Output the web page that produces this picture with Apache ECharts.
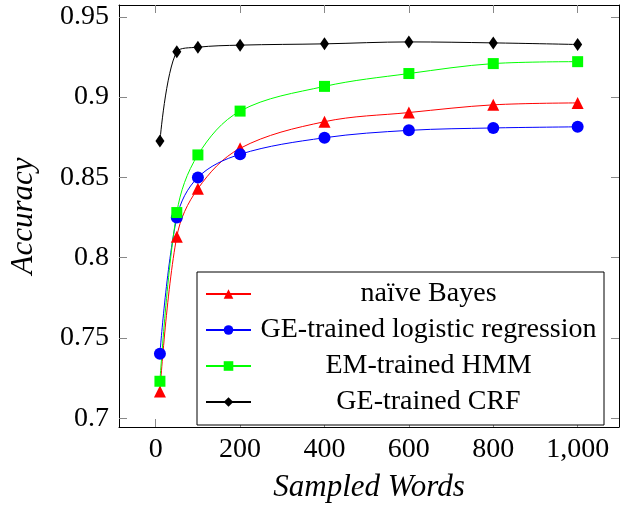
<!DOCTYPE html>
<html>
<head>
<meta charset="utf-8">
<script src="https://cdn.jsdelivr.net/npm/echarts@6/dist/echarts.min.js"></script>
<style>
  html, body { margin: 0; padding: 0; background: #fff; }
  #chart { width: 634px; height: 508px; }
</style>
</head>
<body>
<div id="chart"></div>
<script>
  // sampled word counts
  var sampledWords = [10, 50, 100, 200, 400, 600, 800, 1000];

  var naiveBayes = [0.7166, 0.8131, 0.843, 0.8681, 0.8847, 0.8904, 0.8952, 0.8964];
  var geLogReg = [0.7402, 0.825, 0.850, 0.8644, 0.8747, 0.8793, 0.8808, 0.8815];
  var emHmm = [0.7230, 0.8281, 0.864, 0.8913, 0.9067, 0.9147, 0.9209, 0.9221];
  var geCrf = [0.8726, 0.9283, 0.9311, 0.9324, 0.9332, 0.9344, 0.9338, 0.9328];

  var xTicks = [0, 200, 400, 600, 800, 1000];
  var yTicks = [0.7, 0.75, 0.8, 0.85, 0.9, 0.95];

  var serif = '"Liberation Serif", "DejaVu Serif", serif';

  function pairs(ys) {
    return ys.map(function (y, i) { return [sampledWords[i], y]; });
  }

  function fmtX(v) {
    return v >= 1000 ? Math.floor(v / 1000) + ',' + String(v % 1000).padStart(3, '0') : String(v);
  }

  var tickStyle = { inside: true, length: 8, lineStyle: { color: '#888', width: 1 } };
  var frameLine = { show: true, onZero: false, lineStyle: { color: '#000', width: 1 } };

  function makeSeries(name, data, color, symbol, size) {
    return {
      name: name,
      type: 'line',
      data: pairs(data),
      smooth: 0.35,
      symbol: symbol,
      symbolSize: size,
      showSymbol: true,
      xAxisIndex: 0,
      yAxisIndex: 0,
      lineStyle: { color: color, width: 1 },
      itemStyle: { color: color },
      emphasis: { disabled: true },
      animation: false
    };
  }

  var chart = echarts.init(document.getElementById('chart'));
  chart.setOption({
    animation: false,
    grid: { left: 117, right: 15, top: 5, bottom: 76 },
    xAxis: [{
      type: 'value',
      min: -87,
      max: 1098,
      position: 'bottom',
      name: 'Sampled Words',
      nameLocation: 'middle',
      nameGap: 45,
      nameTextStyle: { fontFamily: serif, fontStyle: 'italic', fontSize: 31, color: '#000' },
      axisLine: frameLine,
      axisTick: Object.assign({ customValues: xTicks }, tickStyle),
      axisLabel: {
        customValues: xTicks,
        formatter: fmtX,
        margin: 9,
        fontFamily: serif,
        fontSize: 28,
        color: '#000'
      },
      splitLine: { show: false }
    }, {
      type: 'value',
      min: -87,
      max: 1098,
      position: 'top',
      axisLine: frameLine,
      axisTick: Object.assign({ customValues: xTicks }, tickStyle),
      axisLabel: { show: false },
      splitLine: { show: false }
    }],
    yAxis: [{
      type: 'value',
      min: 0.6945,
      max: 0.9574,
      position: 'left',
      name: 'Accuracy',
      nameLocation: 'middle',
      nameGap: 80,
      nameTextStyle: { fontFamily: serif, fontStyle: 'italic', fontSize: 31, color: '#000' },
      axisLine: frameLine,
      axisTick: Object.assign({ customValues: yTicks }, tickStyle),
      axisLabel: {
        customValues: yTicks,
        formatter: function (v) { return String(+v.toFixed(2)); },
        margin: 10,
        fontFamily: serif,
        fontSize: 28,
        color: '#000'
      },
      splitLine: { show: false }
    }, {
      type: 'value',
      min: 0.6945,
      max: 0.9574,
      position: 'right',
      axisLine: frameLine,
      axisTick: Object.assign({ customValues: yTicks }, tickStyle),
      axisLabel: { show: false },
      splitLine: { show: false }
    }],
    legend: {
      orient: 'vertical',
      left: 197,
      top: 272,
      padding: [8, 3, 9, 8],
      itemGap: 8,
      itemWidth: 45,
      itemHeight: 12,
      backgroundColor: '#fff',
      borderColor: '#000',
      borderWidth: 1,
      borderRadius: 0,
      selectedMode: false,
      formatter: function (name) { return '{c|' + name + '}'; },
      textStyle: {
        fontFamily: serif,
        fontSize: 28,
        color: '#000',
        rich: { c: { width: 345, align: 'center', fontFamily: serif, fontSize: 28, lineHeight: 27 } }
      }
    },
    series: [
      makeSeries('naïve Bayes', naiveBayes, '#ff0000', 'triangle', 12),
      makeSeries('GE-trained logistic regression', geLogReg, '#0000ff', 'circle', 12),
      makeSeries('EM-trained HMM', emHmm, '#00ff00', 'rect', 11),
      makeSeries('GE-trained CRF', geCrf, '#000000', 'diamond', [9, 13])
    ]
  });
</script>
</body>
</html>
